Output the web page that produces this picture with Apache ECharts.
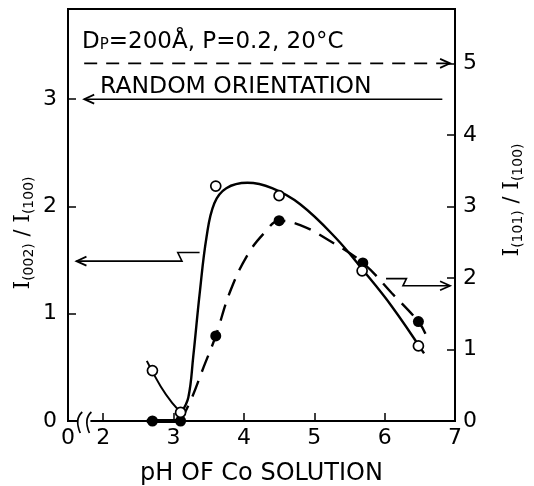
<!DOCTYPE html>
<html>
<head>
<meta charset="utf-8">
<script src="https://cdn.jsdelivr.net/npm/echarts@6/dist/echarts.min.js"></script>
<style>
  html, body { margin: 0; padding: 0; background: #fff; }
  #chart { width: 534px; height: 486px; }
</style>
</head>
<body>
<div id="chart"></div>
<script>
// ---- measured samples ----
// open circles: I(002)/I(100), left axis
const phOpen = [2.7, 3.1, 3.6, 4.5, 5.68, 6.48];
const ratio002 = [0.47, 0.08, 2.19, 2.10, 1.40, 0.70];
// filled circles: I(101)/I(100), right axis
const phFilled = [2.7, 3.1, 3.6, 4.5, 5.69, 6.48];
const ratio101 = [0, 0, 1.19, 2.80, 2.21, 1.39];

// ---- hand-drawn trend curves ----
const fit002Falling = [[2.62, 0.56], [2.82, 0.32], [2.98, 0.17], [3.11, 0.08]];
const fit002Rising = [[3.11, 0.08], [3.21, 0.22], [3.28, 0.60], [3.37, 1.18], [3.47, 1.72],
  [3.58, 2.03], [3.75, 2.17], [4.05, 2.22], [4.40, 2.17], [4.80, 2.02], [5.30, 1.71],
  [5.70, 1.40], [6.10, 1.07], [6.56, 0.63]];
const fit101 = [[3.10, 0.0], [3.25, 0.30], [3.43, 0.76], [3.60, 1.19], [3.80, 1.80],
  [4.05, 2.32], [4.30, 2.64], [4.50, 2.80], [4.80, 2.74], [5.20, 2.53], [5.69, 2.21],
  [6.10, 1.79], [6.48, 1.39], [6.58, 1.22]];
const base101 = [[2.62, 0], [3.15, 0]];

// ---- axes ----
const xMin = 1.5, xMax = 7;
const xTickValues = [2, 3, 4, 5, 6, 7];
const xLabelValues = [1.5, 2, 3, 4, 5, 6, 7];
const leftMax = 3.84, rightMax = 5.76;
const leftTicks = [0, 1, 2, 3];
const rightTicks = [0, 1, 2, 3, 4, 5];

// ---- reference lines and pointers (data coordinates) ----
const randomLeftLevel = 3;     // left axis
const randomRightLevel = 5;    // right axis
const randomSpan = [1.73, 6.82];
const pointerLeft = [[3.37, 1.57], [3.06, 1.57], [3.12, 1.49], [1.62, 1.49]];   // left axis
const pointerRight = [[6.02, 1.99], [6.31, 1.99], [6.26, 1.89], [6.93, 1.89]]; // right axis

const FONT = '"DejaVu Sans", sans-serif';
const SERIF = '"DejaVu Serif", "Liberation Serif", serif';
const INK = '#000';

const chart = echarts.init(document.getElementById('chart'), null, { renderer: 'canvas' });

const axisCommon = {
  axisLine: { show: true, onZero: false, lineStyle: { color: INK, width: 2 } },
  axisTick: { show: true, inside: true, length: 8, lineStyle: { color: INK, width: 1.5 } },
  axisLabel: { color: INK, fontFamily: FONT, fontSize: 22 },
  splitLine: { show: false }
};

chart.setOption({
  animation: false,
  backgroundColor: '#fff',
  grid: {
    left: 68, right: 79, top: 9, bottom: 65, outerBoundsMode: 'none',
    show: true, borderColor: INK, borderWidth: 2
  },
  xAxis: {
    type: 'value', min: xMin, max: xMax,
    name: 'pH OF Co SOLUTION', nameLocation: 'middle', nameGap: 41,
    nameTextStyle: { color: INK, fontFamily: FONT, fontSize: 24 },
    ...axisCommon,
    axisTick: { ...axisCommon.axisTick, customValues: xTickValues },
    axisLabel: {
      ...axisCommon.axisLabel, margin: 6, customValues: xLabelValues,
      formatter: v => (v === xMin ? '0' : String(v))
    }
  },
  yAxis: [
    {
      type: 'value', min: 0, max: leftMax, position: 'left',
      ...axisCommon,
      axisTick: { ...axisCommon.axisTick, customValues: leftTicks },
      axisLabel: { ...axisCommon.axisLabel, margin: 11, customValues: leftTicks }
    },
    {
      type: 'value', min: 0, max: rightMax, position: 'right',
      ...axisCommon,
      axisTick: { ...axisCommon.axisTick, customValues: rightTicks },
      axisLabel: { ...axisCommon.axisLabel, margin: 8, customValues: rightTicks }
    }
  ],
  series: [
    {
      type: 'line', yAxisIndex: 0, data: fit002Falling, smooth: 0.4, showSymbol: false,
      lineStyle: { color: INK, width: 2 }, z: 2
    },
    {
      type: 'line', yAxisIndex: 0, data: fit002Rising, smooth: 0.4, showSymbol: false,
      lineStyle: { color: INK, width: 2.4 }, z: 2
    },
    {
      type: 'line', yAxisIndex: 1, data: fit101, smooth: 0.4, showSymbol: false,
      lineStyle: { color: INK, width: 2.4, type: [17, 10] }, z: 2
    },
    {
      type: 'line', yAxisIndex: 1, data: base101, showSymbol: false,
      lineStyle: { color: INK, width: 4 }, z: 3
    },
    {
      type: 'scatter', yAxisIndex: 1, symbol: 'circle', symbolSize: 11,
      data: phFilled.map((x, i) => [x, ratio101[i]]),
      itemStyle: { color: INK, opacity: 1 }, z: 4
    },
    {
      type: 'scatter', yAxisIndex: 0, symbol: 'circle', symbolSize: 10,
      data: phOpen.map((x, i) => [x, ratio002[i]]),
      itemStyle: { color: '#fff', borderColor: INK, borderWidth: 1.7, opacity: 1 }, z: 5
    }
  ]
});

// ---- annotations placed through the axis scales ----
function px(yAxisIndex, pt) {
  return chart.convertToPixel({ xAxisIndex: 0, yAxisIndex: yAxisIndex }, pt);
}
function chevron(tip, dir) {
  // open arrow head; dir = +1 points right, -1 points left
  const L = 10, H = 4.5;
  return {
    type: 'polyline', z: 10,
    shape: { points: [[tip[0] - dir * L, tip[1] - H], tip, [tip[0] - dir * L, tip[1] + H]] },
    style: { stroke: INK, lineWidth: 1.7, fill: null }
  };
}

const gl = px(0, [randomSpan[0], randomLeftLevel]);
const gr = px(0, [randomSpan[1], randomLeftLevel]);
const dl = px(1, [randomSpan[0], randomRightLevel]);
const dr = px(1, [pointerRight[3][0], randomRightLevel]);
const pl = pointerLeft.map(p => px(0, p));
const pr = pointerRight.map(p => px(1, p));
const axisY = px(0, [xMin, 0])[1];
const brk1 = px(0, [1.66, 0])[0];
const brk2 = px(0, [1.79, 0])[0];

const titleRich = {
  i: { fontFamily: SERIF, fontSize: 22, fill: INK, verticalAlign: 'bottom' },
  s: { fontFamily: FONT, fontSize: 14, fill: INK, verticalAlign: 'bottom', padding: [0, 0, -2, 0] },
  t: { fontFamily: FONT, fontSize: 21, fill: INK, verticalAlign: 'bottom' }
};

const graphics = [
  // solid reference at left 3, pointing to the left axis
  { type: 'line', z: 10, shape: { x1: gr[0], y1: gr[1], x2: gl[0], y2: gl[1] }, style: { stroke: INK, lineWidth: 1.5 } },
  chevron(gl, -1),
  // dashed reference at right 5, pointing to the right axis
  { type: 'line', z: 10, shape: { x1: dl[0], y1: dl[1], x2: dr[0], y2: dr[1] }, style: { stroke: INK, lineWidth: 1.7, lineDash: [13, 9] } },
  chevron(dr, 1),
  // pointers from the curves to their axes
  { type: 'polyline', z: 10, shape: { points: pl }, style: { stroke: INK, lineWidth: 1.6, fill: null } },
  chevron(pl[pl.length - 1], -1),
  { type: 'polyline', z: 10, shape: { points: pr }, style: { stroke: INK, lineWidth: 1.6, fill: null } },
  chevron(pr[pr.length - 1], 1),
  // axis break between 0 and 2
  { type: 'rect', z: 10, shape: { x: brk1 - 2, y: axisY - 3, width: brk2 - brk1 + 4, height: 6 }, style: { fill: '#fff' } },
  { type: 'bezierCurve', z: 11, shape: { x1: brk1 + 3, y1: axisY - 9, cpx1: brk1 - 5, cpy1: axisY - 2, x2: brk1 + 1, y2: axisY + 12 }, style: { stroke: INK, lineWidth: 1.7, fill: null } },
  { type: 'bezierCurve', z: 11, shape: { x1: brk2 + 3, y1: axisY - 9, cpx1: brk2 - 5, cpy1: axisY - 2, x2: brk2 + 1, y2: axisY + 12 }, style: { stroke: INK, lineWidth: 1.7, fill: null } },
  // condition and reference captions
  {
    type: 'text', z: 12, x: 82, y: 42,
    style: {
      text: '{a|D}{b|P}{a|=200Å, P=0.2, 20°C}',
      verticalAlign: 'middle',
      rich: {
        a: { fontFamily: FONT, fontSize: 23, fill: INK, verticalAlign: 'bottom' },
        b: { fontFamily: FONT, fontSize: 15, fill: INK, verticalAlign: 'bottom', padding: [0, 0, 1, 0] }
      }
    }
  },
  {
    type: 'text', z: 12, x: 100, y: 87,
    style: { text: 'RANDOM ORIENTATION', fontFamily: FONT, fontSize: 23.5, fill: INK, verticalAlign: 'middle' }
  },
  // axis titles
  {
    type: 'text', z: 12, x: 23, y: 233, rotation: Math.PI / 2,
    style: { text: '{i|I}{s|(002)}{t| / }{i|I}{s|(100)}', align: 'center', verticalAlign: 'middle', rich: titleRich }
  },
  {
    type: 'text', z: 12, x: 512, y: 200, rotation: Math.PI / 2,
    style: { text: '{i|I}{s|(101)}{t| / }{i|I}{s|(100)}', align: 'center', verticalAlign: 'middle', rich: titleRich }
  }
];

chart.setOption({ graphic: graphics });
</script>
</body>
</html>
